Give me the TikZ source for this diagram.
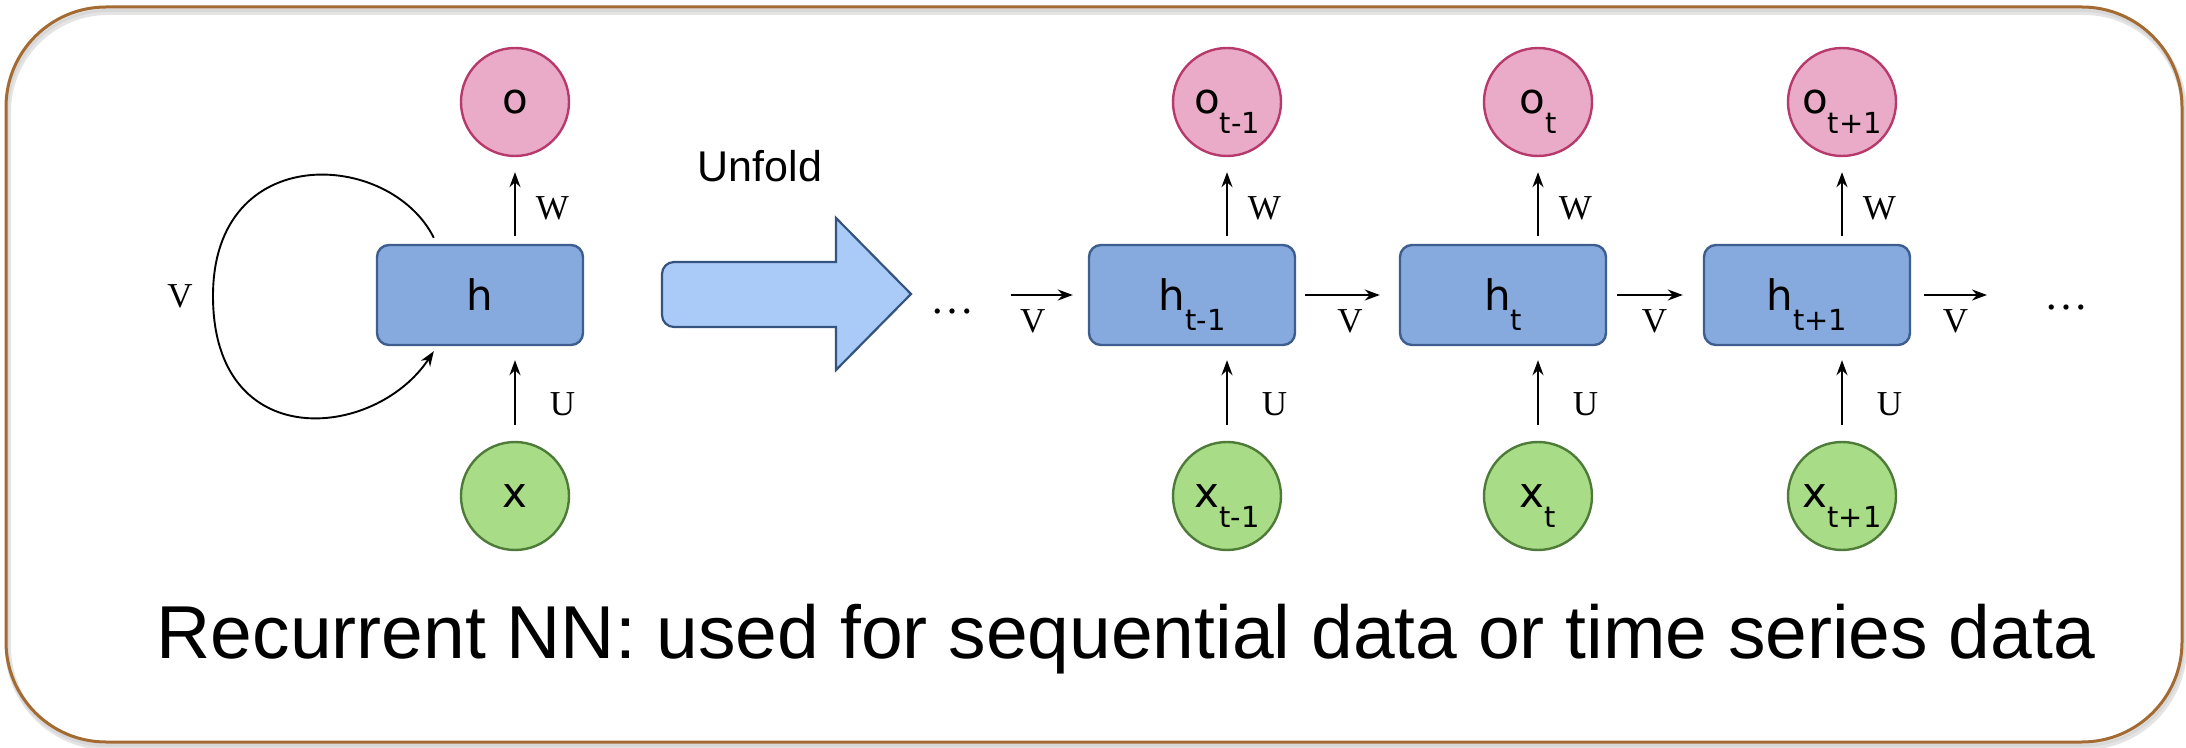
\documentclass[tikz,border=0pt]{standalone}
\usepackage{fontspec}
\setmainfont{Liberation Sans}
\newfontfamily\cellfont{DejaVu Sans}
\newfontfamily\wtfont{Liberation Serif}
\usetikzlibrary{arrows.meta,calc}

\definecolor{framebrown}{HTML}{A36A31}
\definecolor{outfill}{HTML}{E9ABC7}
\definecolor{outdraw}{HTML}{B83A6C}
\definecolor{infill}{HTML}{A8DC86}
\definecolor{indraw}{HTML}{4E7B38}
\definecolor{hfill}{HTML}{86A9DE}
\definecolor{hdraw}{HTML}{3D5E8E}
\definecolor{arrowfill}{HTML}{AACAF8}
\definecolor{arrowdraw}{HTML}{34547F}

% lowered subscript that does not change the height of the label
\newcommand\cellsub[1]{\raisebox{-10pt}[0pt][0pt]{\fontsize{14.5}{14.5}\selectfont #1}}

\begin{document}
\begin{tikzpicture}[x=0.5pt,y=-0.5pt,
  cell/.style={circle, line width=1.2pt, minimum size=54pt, inner sep=0pt,
    font=\cellfont\fontsize{21}{21}\selectfont},
  outcell/.style={cell, draw=outdraw, fill=outfill},
  incell/.style={cell, draw=indraw, fill=infill},
  hcell/.style={rectangle, rounded corners=6pt, line width=1.2pt, draw=hdraw,
    fill=hfill, minimum width=103pt, minimum height=50pt, inner sep=0pt,
    font=\cellfont\fontsize{21}{21}\selectfont},
  conn/.style={line width=0.95pt, -{Stealth[length=7.5pt,width=5.5pt]}},
  wlabel/.style={font=\wtfont\fontsize{17.5}{17.5}\selectfont, inner sep=0pt},
  dotlabel/.style={font=\wtfont\fontsize{22}{22}\selectfont, inner sep=0pt, anchor=base},
]
\useasboundingbox (0,0) rectangle (2186,748);

% frame with a soft shadow
\draw[black!30, line width=3pt, rounded corners=50pt, opacity=0.35] (8,12) rectangle (2184,747);
\draw[black!20, line width=2pt, rounded corners=50pt, opacity=0.5] (7,10) rectangle (2183,745);
\draw[framebrown, line width=1.5pt, rounded corners=50pt] (6,7) rectangle (2182,742);

% folded network
\node[outcell] (o0) at (515,102) {o};
\node[hcell] (h0) at (480,295) {h};
\node[incell] (x0) at (515,496) {x};
\draw[conn] ($(o0.south |- h0.north)+(0,-8)$) -- ($(o0.south)+(0,15)$)
  node[midway, right=10pt, yshift=-2pt, wlabel] {W};
\draw[conn] ($(x0.north)+(0,-16)$) -- ($(x0.north |- h0.south)+(0,14)$)
  node[midway, right=17pt, yshift=-6pt, wlabel] {U};
\draw[conn] ($(h0.north west)+(58,-6)$) .. controls (390,150) and (213,140) .. (213,296)
  .. controls (213,455) and (375,440) .. ($(h0.south west)+(58,5)$);
\node[wlabel] (vloop) at (180,296) {V};

% unfold arrow
\node[font=\fontsize{21.5}{21.5}\selectfont] (unfold) at (760,166) {Unfold};
\draw[arrowdraw, fill=arrowfill, line width=1.1pt, line join=miter]
  (836,262) -- (836,218) -- (911,294) -- (836,370) -- (836,327)
  {[rounded corners=6pt] -- (662,327) -- (662,262)} -- cycle;

% unfolded network
\foreach \i/\bx/\s in {1/1192/t-1, 2/1503/t, 3/1807/t+1} {
  \node[hcell] (h\i) at (\bx,295) {h\cellsub{\s}};
  \node[outcell] (o\i) at (\bx+35,102) {o\cellsub{\s}};
  \node[incell] (x\i) at (\bx+35,496) {x\cellsub{\s}};
  \draw[conn] ($(o\i.south |- h\i.north)+(0,-8)$) -- ($(o\i.south)+(0,15)$)
    node[midway, right=10pt, yshift=-2pt, wlabel] {W};
  \draw[conn] ($(x\i.north)+(0,-16)$) -- ($(x\i.north |- h\i.south)+(0,14)$)
    node[midway, right=17pt, yshift=-6pt, wlabel] {U};
}

\coordinate (hin) at (1011,295);
\coordinate (hout) at (1987,295);
\node[dotlabel] (dotsl) at (952,314) {\dots};
\node[dotlabel] (dotsr) at (2066,310) {\dots};

\draw[conn] (hin) -- ($(h1.west)+(-15,0)$) node[pos=0.35, below=7pt, wlabel] {V};
\draw[conn] ($(h1.east)+(9,0)$) -- ($(h2.west)+(-19,0)$) node[pos=0.6, below=7pt, wlabel] {V};
\draw[conn] ($(h2.east)+(10,0)$) -- ($(h3.west)+(-20,0)$) node[pos=0.57, below=7pt, wlabel] {V};
\draw[conn] ($(h3.east)+(13,0)$) -- (hout) node[midway, below=7pt, wlabel] {V};

% caption
\node[anchor=base, inner sep=0pt, font=\fontsize{37.5}{37.5}\selectfont] (caption)
  at (1126,658) {Recurrent NN: used for sequential data or time series data};
\end{tikzpicture}
\end{document}
